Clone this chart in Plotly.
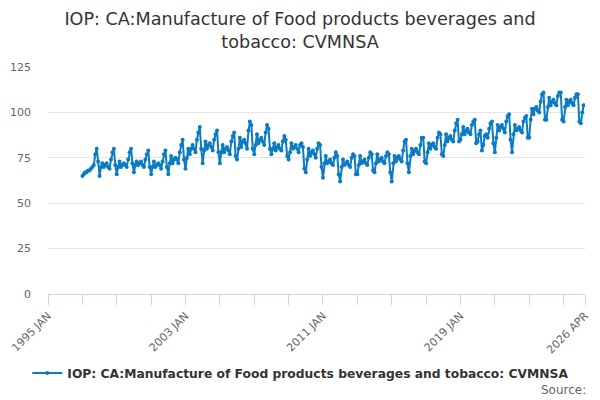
import pandas as pd
import plotly.graph_objs as go

# Monthly index values (Jan..Dec per year)
TITLE = "IOP: CA:Manufacture of Food products beverages and tobacco: CVMNSA"
START = "1997-01-01"

y1997 = [65, 66, 67, 67, 68, 68, 69, 70, 71, 77, 80, 73]
y1998 = [65, 70, 72, 70, 71, 72, 70, 69, 74, 78, 80, 71]
y1999 = [66, 70, 73, 70, 71, 72, 71, 70, 74, 78, 80, 72]
y2000 = [67, 71, 73, 71, 72, 73, 71, 70, 74, 77, 79, 70]
y2001 = [66, 70, 73, 70, 71, 72, 71, 69, 73, 77, 79, 70]
y2002 = [66, 72, 76, 72, 74, 75, 74, 72, 78, 82, 85, 74]
y2003 = [69, 75, 80, 77, 80, 82, 80, 78, 85, 89, 92, 80]
y2004 = [72, 79, 84, 80, 82, 83, 81, 79, 85, 88, 90, 78]
y2005 = [72, 78, 82, 78, 80, 81, 79, 77, 84, 87, 89, 76]
y2006 = [74, 80, 86, 81, 84, 85, 83, 80, 90, 95, 93, 80]
y2007 = [77, 82, 88, 83, 85, 86, 84, 82, 89, 93, 91, 80]
y2008 = [77, 80, 83, 79, 81, 82, 80, 79, 84, 87, 85, 76]
y2009 = [74, 78, 83, 80, 81, 82, 80, 78, 82, 83, 81, 69]
y2010 = [67, 74, 80, 76, 78, 79, 77, 75, 80, 83, 82, 70]
y2011 = [64, 72, 76, 72, 73, 74, 72, 71, 75, 78, 76, 66]
y2012 = [62, 70, 74, 71, 72, 73, 71, 70, 75, 77, 76, 66]
y2013 = [66, 71, 76, 72, 73, 74, 72, 71, 75, 78, 77, 68]
y2014 = [67, 72, 77, 73, 74, 75, 73, 72, 76, 78, 77, 67]
y2015 = [62, 72, 76, 73, 75, 76, 74, 73, 79, 84, 85, 72]
y2016 = [67, 76, 80, 77, 79, 80, 78, 77, 82, 86, 86, 73]
y2017 = [72, 78, 83, 80, 82, 83, 81, 80, 86, 89, 88, 77]
y2018 = [76, 82, 88, 84, 86, 87, 85, 84, 90, 94, 96, 84]
y2019 = [85, 88, 92, 88, 90, 91, 89, 88, 93, 95, 96, 83]
y2020 = [84, 88, 90, 79, 82, 87, 88, 86, 91, 94, 95, 83]
y2021 = [78, 86, 93, 90, 92, 93, 91, 89, 95, 98, 99, 85]
y2022 = [78, 88, 93, 90, 91, 92, 90, 89, 95, 97, 98, 86]
y2023 = [86, 96, 102, 99, 102, 103, 101, 100, 106, 110, 111, 96]
y2024 = [96, 103, 108, 104, 106, 107, 105, 104, 109, 111, 111, 96]
y2025 = [95, 103, 107, 104, 106, 107, 105, 104, 108, 110, 110, 95]
y2026 = [94, 100, 104]

values = (y1997 + y1998 + y1999 + y2000 + y2001 + y2002 + y2003 + y2004
          + y2005 + y2006 + y2007 + y2008 + y2009 + y2010 + y2011 + y2012
          + y2013 + y2014 + y2015 + y2016 + y2017 + y2018 + y2019 + y2020
          + y2021 + y2022 + y2023 + y2024 + y2025 + y2026)
dates = pd.date_range(START, periods=len(values), freq="MS")

# x axis ticks every two years, labels every eight
tick_vals = [f"{y}-01-01" for y in range(1995, 2026, 2)] + ["2026-04-01"]
tick_text = [f"{y} JAN" if y in (1995, 2003, 2011, 2019) else "" for y in range(1995, 2026, 2)] + ["2026 APR"]

BLUE = "#0a7bc4"
AXIS = "#ccd6eb"

trace = go.Scatter(
    x=dates, y=values, mode="lines+markers", name=TITLE,
    line=dict(color=BLUE, width=2),
    marker=dict(color=BLUE, size=4),
)

# page body has an 8px margin, so the figure is offset a little
layout = go.Layout(
    width=600, height=400,
    margin=dict(l=40, r=23, t=59, b=114),
    paper_bgcolor="white", plot_bgcolor="white",
    font=dict(family="DejaVu Sans", color="#666666", size=11),
    title=dict(
        text="IOP: CA:Manufacture of Food products beverages and<br>tobacco: CVMNSA",
        x=0.4867, xanchor="center", y=0.958, yanchor="top",
        font=dict(size=17.6, color="#333333"),
    ),
    xaxis=dict(
        type="date", range=["1995-01-01", "2026-04-01"],
        tickmode="array", tickvals=tick_vals, ticktext=tick_text,
        tickangle=-45, ticks="outside", ticklen=10, tickcolor=AXIS,
        showline=True, linecolor=AXIS, linewidth=1,
        showgrid=False, zeroline=False, automargin=False,
    ),
    yaxis=dict(
        range=[0, 125], tickvals=[0, 25, 50, 75, 100, 125],
        showgrid=True, gridcolor="#e6e6e6", zeroline=False,
        ticks="", ticklabelstandoff=16, automargin=False,
    ),
    showlegend=True,
    legend=dict(
        orientation="h", xref="container", x=0.488, xanchor="center",
        yref="container", y=0.0875, yanchor="middle",
        font=dict(size=12.3, color="#333333", weight="bold"),
    ),
    annotations=[dict(
        text="Source:", xref="paper", yref="paper", x=1.0056, y=-0.423,
        xanchor="right", yanchor="middle", showarrow=False,
        font=dict(size=12, color="#666666"),
    )],
)

fig = go.Figure(data=[trace], layout=layout)
fig.write_html("out.html")
